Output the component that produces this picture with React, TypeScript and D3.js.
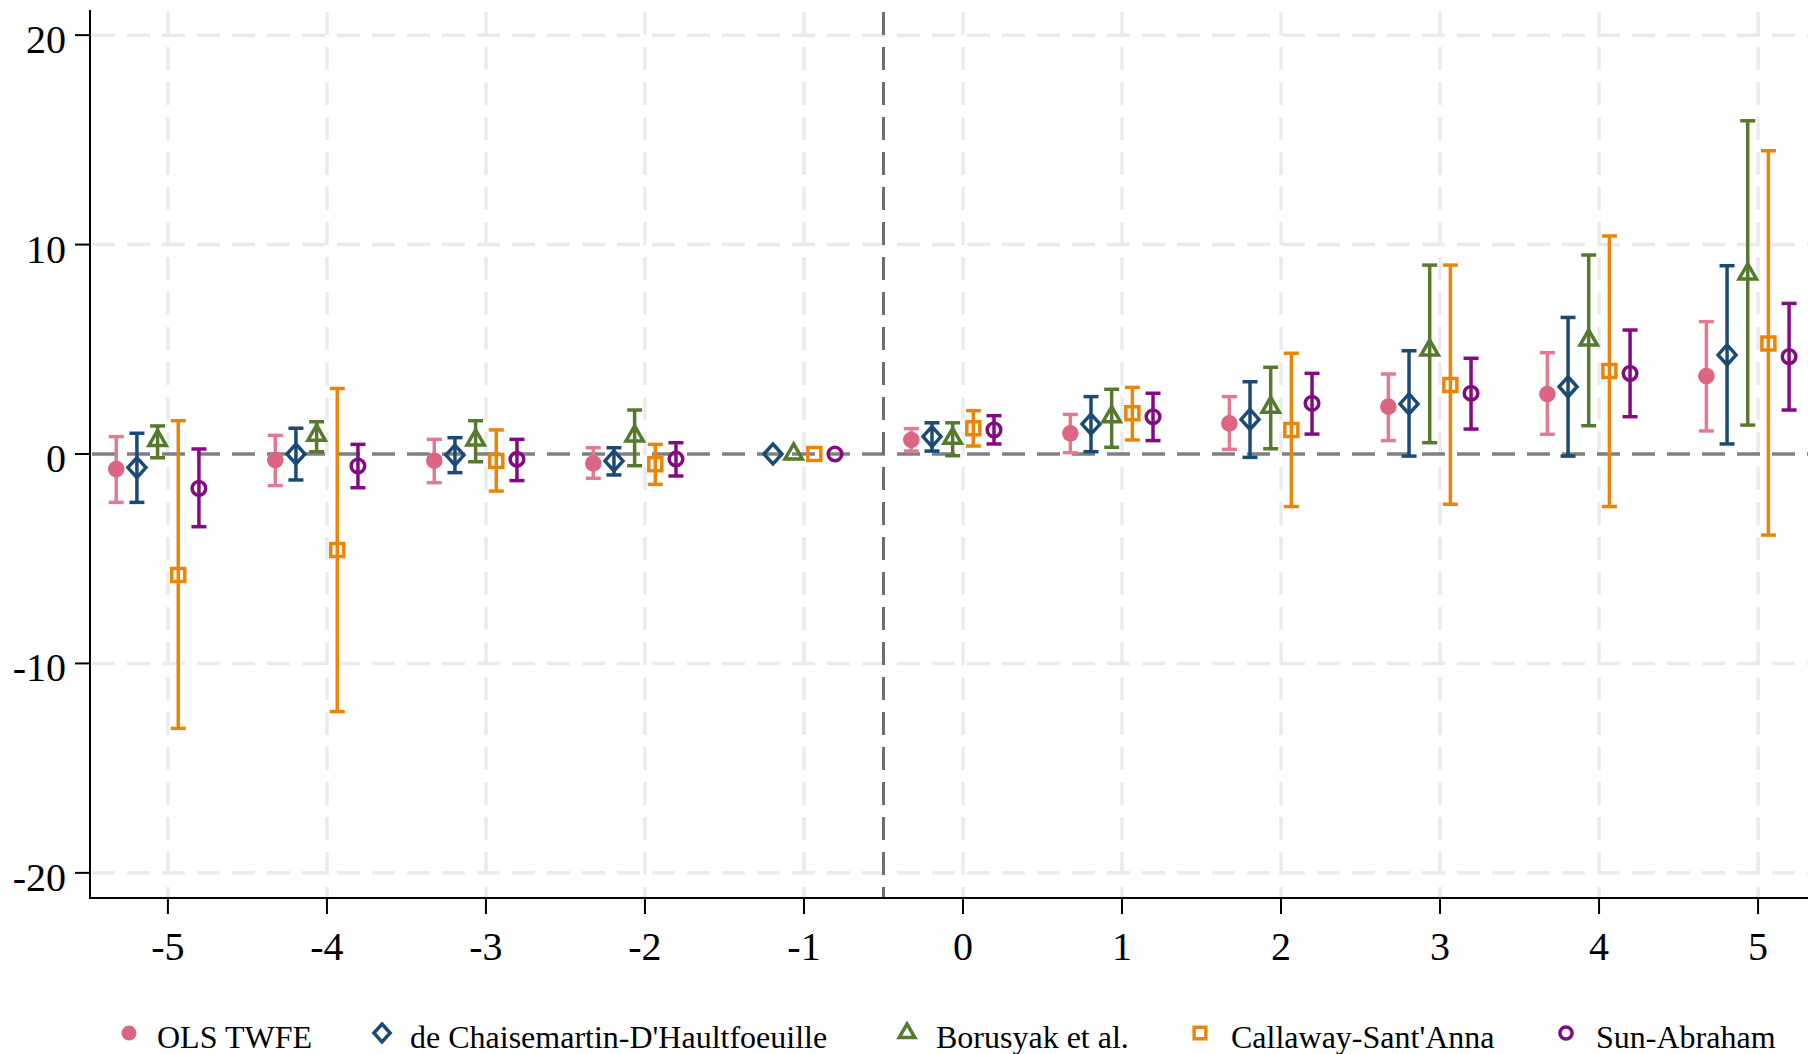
import React from "react";
import * as d3 from "d3";

// event time
const periods = [-5, -4, -3, -2, -1, 0, 1, 2, 3, 4, 5];
const yTicks = [-20, -10, 0, 10, 20];

const seriesNames = [
  "OLS TWFE",
  "de Chaisemartin-D'Haultfoeuille",
  "Borusyak et al.",
  "Callaway-Sant'Anna",
  "Sun-Abraham",
];

// point estimates (null = not estimated)
const olsEst = [-0.72, -0.29, -0.32, -0.45, null, 0.67, 0.99, 1.46, 2.26, 2.86, 3.72];
const olsLo = [-2.31, -1.51, -1.37, -1.16, null, 0.14, 0.06, 0.22, 0.64, 0.94, 1.1];
const olsHi = [0.83, 0.89, 0.7, 0.3, null, 1.21, 1.89, 2.74, 3.82, 4.84, 6.32];

const dcdhEst = [-0.65, 0.0, -0.05, -0.33, 0, 0.83, 1.43, 1.65, 2.39, 3.21, 4.73];
const dcdhLo = [-2.31, -1.24, -0.89, -1.0, null, 0.14, 0.11, -0.16, -0.1, -0.1, 0.48];
const dcdhHi = [0.99, 1.23, 0.78, 0.3, null, 1.49, 2.74, 3.45, 4.93, 6.52, 8.99];

const borEst = [0.65, 0.9, 0.67, 0.86, 0, 0.75, 1.78, 2.23, 4.96, 5.44, 8.6];
const borLo = [-0.18, 0.11, -0.37, -0.56, null, -0.08, 0.32, 0.25, 0.54, 1.35, 1.38];
const borHi = [1.34, 1.54, 1.59, 2.1, null, 1.49, 3.09, 4.14, 9.02, 9.5, 15.91];

const csEst = [-5.78, -4.58, -0.33, -0.49, 0, 1.23, 1.94, 1.15, 3.29, 3.96, 5.28];
const csLo = [-13.1, -12.3, -1.77, -1.45, null, 0.38, 0.67, -2.51, -2.4, -2.51, -3.87];
const csHi = [1.59, 3.13, 1.15, 0.46, null, 2.07, 3.18, 4.81, 9.02, 10.41, 14.48];

const saEst = [-1.64, -0.57, -0.25, -0.24, 0, 1.15, 1.78, 2.42, 2.9, 3.85, 4.65];
const saLo = [-3.47, -1.61, -1.27, -1.05, null, 0.48, 0.64, 0.95, 1.19, 1.78, 2.1];
const saHi = [0.24, 0.46, 0.7, 0.54, null, 1.83, 2.9, 3.85, 4.57, 5.92, 7.19];

// horizontal shift of each estimator around the period
const offsets = [-0.325, -0.195, -0.065, 0.065, 0.195];

const colors = ["#db6582", "#1b4a74", "#557a2e", "#e9860a", "#840a84"];
const ciColors = ["#e27a93", "#1b4a74", "#557a2e", "#e9860a", "#840a84"];

const series = [
  { est: olsEst, lo: olsLo, hi: olsHi },
  { est: dcdhEst, lo: dcdhLo, hi: dcdhHi },
  { est: borEst, lo: borLo, hi: borHi },
  { est: csEst, lo: csLo, hi: csHi },
  { est: saEst, lo: saLo, hi: saHi },
];

const W = 1808;
const H = 1054;
const left = 90;
const right = 1808;
const top = 10;
const bottom = 898;
const font = "'Liberation Serif', 'Times New Roman', serif";

const x = d3.scaleLinear().domain([-5.49, 5.314]).range([left, right]);
const y = d3.scaleLinear().domain([-21.2, 21.2]).range([bottom, top]);

const triangle = d3.symbol().type(d3.symbolTriangle).size(130)();
const square = d3.symbol().type(d3.symbolSquare).size(169)();
const diamond = "M0,-10L9,0L0,10L-9,0Z";

function Marker({ k, cx, cy, scale = 1 }) {
  const c = colors[k];
  const tr = `translate(${cx},${cy}) scale(${scale})`;
  const sw = 3.5 / scale;
  if (k === 0) return <circle cx={cx} cy={cy} r={8.3 * scale} fill={c} />;
  if (k === 1) return <path d={diamond} transform={tr} fill="none" stroke={c} strokeWidth={sw} />;
  if (k === 2) return <path d={triangle} transform={tr} fill="none" stroke={c} strokeWidth={sw} />;
  if (k === 3) return <path d={square} transform={tr} fill="none" stroke={c} strokeWidth={sw} />;
  return <circle cx={cx} cy={cy} r={6.8 * scale} fill="none" stroke={c} strokeWidth={3.5} />;
}

const legendMarkerX = [129, 382, 907, 1200, 1566];
const legendTextX = [157, 410, 936, 1231, 1596];

export default function App() {
  const cap = 7.5;
  return (
    <svg
      width={W}
      height={H}
      style={{ position: "absolute", left: 0, top: 0, background: "#fff" }}
      fontFamily={font}
    >
      <rect width={W} height={H} fill="#fff" />
      {/* grid */}
      {yTicks
        .filter((t) => t !== 0)
        .map((t) => (
          <line
            key={"gy" + t}
            x1={left + 2}
            x2={right}
            y1={y(t)}
            y2={y(t)}
            stroke="#ebebeb"
            strokeWidth={3.5}
            strokeDasharray="23 12"
          />
        ))}
      {periods.map((p) => (
        <line
          key={"gx" + p}
          x1={x(p)}
          x2={x(p)}
          y1={top + 2}
          y2={bottom}
          stroke="#ebebeb"
          strokeWidth={3.5}
          strokeDasharray="23 12"
        />
      ))}
      {/* reference lines */}
      <line
        x1={left + 2}
        x2={right}
        y1={y(0)}
        y2={y(0)}
        stroke="#808080"
        strokeWidth={3.5}
        strokeDasharray="23 12"
      />
      <line
        x1={x(-0.5)}
        x2={x(-0.5)}
        y1={top + 2}
        y2={bottom}
        stroke="#6e6e6e"
        strokeWidth={3}
        strokeDasharray="23 12"
      />
      {/* estimates */}
      {series.map((s, k) =>
        periods.map((p, i) => {
          const e = s.est[i];
          if (e === null) return null;
          const cx = x(p + offsets[k]);
          const lo = s.lo[i];
          const hi = s.hi[i];
          return (
            <g key={`s${k}-${i}`}>
              {lo !== null && hi !== null && (
                <g stroke={ciColors[k]} strokeWidth={3.5}>
                  <line x1={cx} x2={cx} y1={y(lo)} y2={y(hi)} />
                  <line x1={cx - cap} x2={cx + cap} y1={y(lo)} y2={y(lo)} />
                  <line x1={cx - cap} x2={cx + cap} y1={y(hi)} y2={y(hi)} />
                </g>
              )}
              <Marker k={k} cx={cx} cy={y(e)} />
            </g>
          );
        })
      )}
      {/* axes */}
      <line x1={left} x2={left} y1={top} y2={bottom + 1} stroke="#000" strokeWidth={2} />
      <line x1={left} x2={right} y1={bottom} y2={bottom} stroke="#000" strokeWidth={2} />
      {yTicks.map((t) => (
        <g key={"yt" + t}>
          <line x1={left - 15} x2={left} y1={y(t)} y2={y(t)} stroke="#000" strokeWidth={2} />
          <text x={66} y={y(t) + 18} textAnchor="end" fontSize={40} fill="#000">
            {t}
          </text>
        </g>
      ))}
      {periods.map((p) => (
        <g key={"xt" + p}>
          <line x1={x(p)} x2={x(p)} y1={bottom} y2={bottom + 16} stroke="#000" strokeWidth={2} />
          <text x={x(p)} y={960} textAnchor="middle" fontSize={40} fill="#000">
            {p}
          </text>
        </g>
      ))}
      {/* legend */}
      {seriesNames.map((n, k) => (
        <g key={"lg" + k}>
          <Marker k={k} cx={legendMarkerX[k]} cy={1033} scale={0.9} />
          <text x={legendTextX[k]} y={1048} fontSize={32} fill="#000">
            {n}
          </text>
        </g>
      ))}
    </svg>
  );
}
